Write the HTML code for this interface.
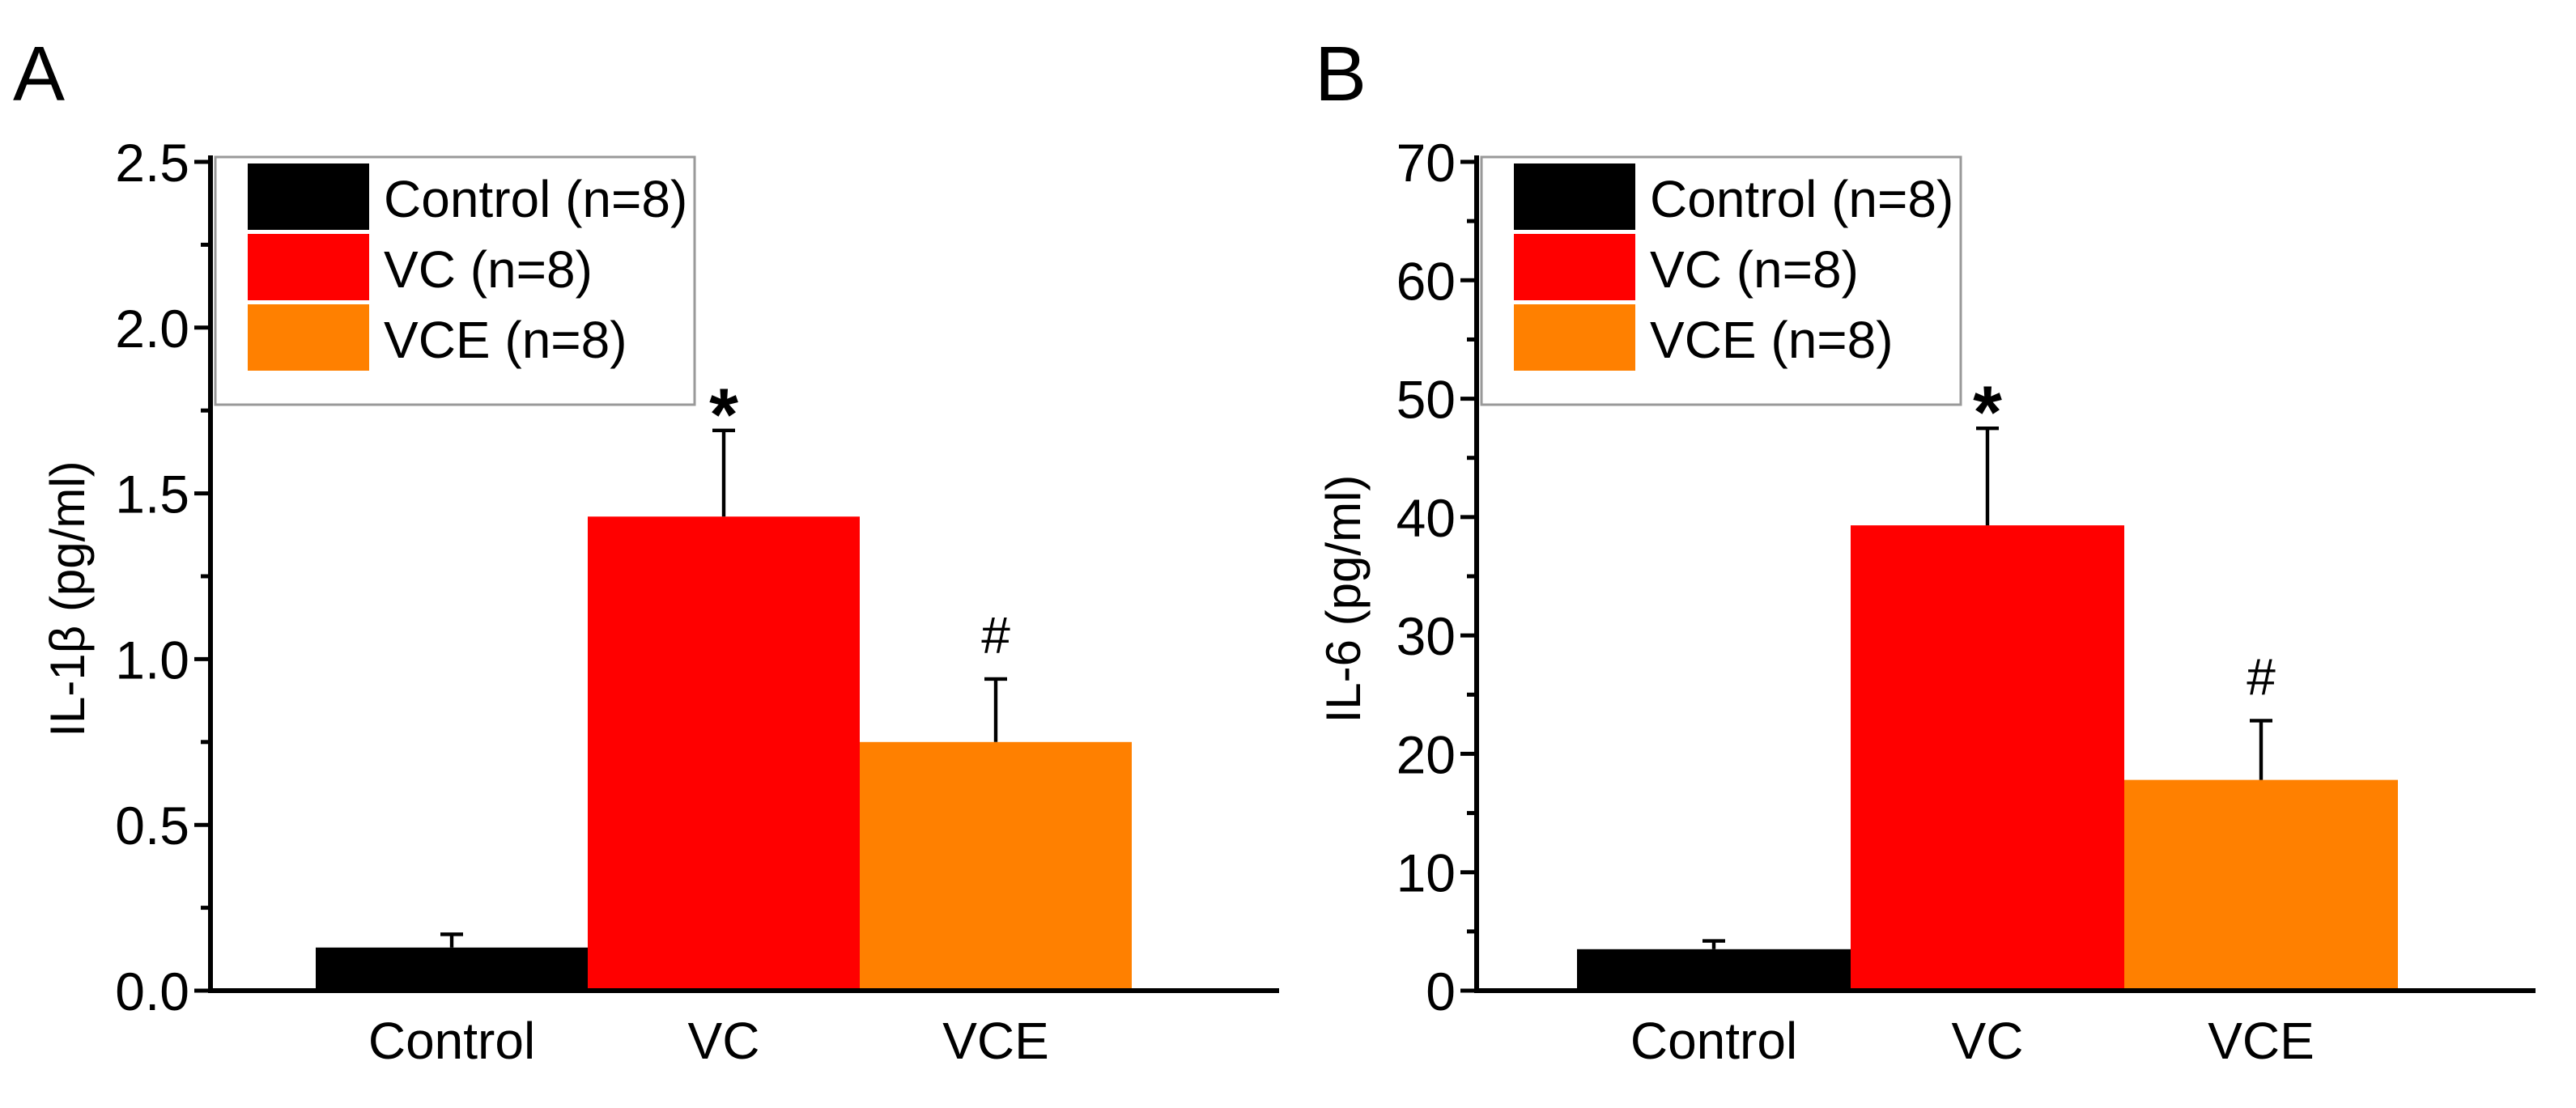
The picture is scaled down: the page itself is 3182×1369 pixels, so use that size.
<!DOCTYPE html>
<html><head><meta charset="utf-8"><style>html,body{margin:0;padding:0;background:#fff}svg{display:block}</style></head>
<body>
<svg id="chart" width="3182" height="1369" viewBox="0 0 1591 684.5" xmlns="http://www.w3.org/2000/svg" font-family="Liberation Sans, Arial, sans-serif"></svg>
<script>
const categories = ["Control", "VC", "VCE"];
const legendLabels = ["Control (n=8)", "VC (n=8)", "VCE (n=8)"];
const colors = ["#000000", "#ff0000", "#ff8000"];
const valuesA = [0.13, 1.43, 0.75];
const errorsA = [0.17, 1.69, 0.94];
const marksA = ["", "*", "#"];
const ticksA = ["0.0", "0.5", "1.0", "1.5", "2.0", "2.5"];
const valuesB = [3.5, 39.3, 17.8];
const errorsB = [4.2, 47.5, 22.8];
const marksB = ["", "*", "#"];
const ticksB = ["0", "10", "20", "30", "40", "50", "60", "70"];

const svg = document.getElementById('chart');
const NS = "http://www.w3.org/2000/svg";
function mk(tag, attrs, parent) {
  const e = document.createElementNS(NS, tag);
  for (const k in attrs) e.setAttribute(k, attrs[k]);
  (parent || svg).appendChild(e);
  return e;
}

function panel(cfg) {
  const g = mk('g', {});
  
  
  const ax = cfg.ax, y0 = 612, yTop = 100;
  const ymax = parseFloat(cfg.ticks[cfg.ticks.length - 1]);
  const y = v => y0 - (v / ymax) * (y0 - yTop);
  const bw = cfg.bw;
  const xb = i => cfg.bx + i * bw;

  cfg.values.forEach((v, i) => {
    const r = mk('rect', {x: xb(i), y: y(v), width: bw, height: y0 - y(v), fill: colors[i]}, g);
    
    
    const cx = xb(i) + bw / 2;
    const eb = mk('path', {d: `M${cx},${y(v)}V${y(cfg.errors[i])}M${cx - 7},${y(cfg.errors[i])}H${cx + 7}`, stroke: '#000', 'stroke-width': 2.2, fill: 'none'}, g);
    
    
    if (cfg.marks[i]) {
      const isStar = cfg.marks[i] === '*';
      const t = mk('text', {x: cx, y: y(cfg.errors[i]) - (isStar ? -6 : 16), 'font-size': isStar ? 46 : 32, 'text-anchor': 'middle', 'font-weight': isStar ? 'bold' : 'normal'}, g);
      t.textContent = cfg.marks[i];
      
      
    }
    const xl = mk('text', {x: cx, y: 654, 'font-size': 32, 'text-anchor': 'middle'}, g);
    xl.textContent = categories[i];
    
    
  });

  const axes = mk('path', {d: `M${ax},${yTop - 4}V${y0}H${cfg.xend}`, stroke: '#000', 'stroke-width': 3, fill: 'none'}, g);
  
  
  const n = cfg.ticks.length;
  for (let k = 0; k < n; k++) {
    const v = parseFloat(cfg.ticks[k]);
    mk('line', {x1: ax - 10, x2: ax, y1: y(v), y2: y(v), stroke: '#000', 'stroke-width': 2.5}, g);
    if (k < n - 1) {
      const mv = (parseFloat(cfg.ticks[k]) + parseFloat(cfg.ticks[k + 1])) / 2;
      mk('line', {x1: ax - 6, x2: ax, y1: y(mv), y2: y(mv), stroke: '#000', 'stroke-width': 2.5}, g);
    }
    const t = mk('text', {x: ax - 13, y: y(v) + 12, 'font-size': 33, 'text-anchor': 'end'}, g);
    t.textContent = cfg.ticks[k];
    
    
  }
  const yt = mk('text', {x: 0, y: 0, 'font-size': 30, 'text-anchor': 'middle', transform: `translate(${cfg.ylx},${(y0 + yTop) / 2 + 14}) rotate(-90)`}, g);
  yt.textContent = cfg.ylabel;
  
  

  const pl = mk('text', {x: cfg.plx, y: 62, 'font-size': 48}, g);
  pl.textContent = cfg.letter;
  
  

  const lg = mk('g', {}, g);
  
  
  mk('rect', {x: cfg.lx, y: 97, width: 296, height: 153, fill: '#fff', stroke: '#999', 'stroke-width': 1.5}, lg);
  legendLabels.forEach((lab, i) => {
    const ry = 101 + i * 43.5;
    const sw = mk('rect', {x: cfg.lx + 20, y: ry, width: 75, height: 41, fill: colors[i]}, lg);
    
    
    const t = mk('text', {x: cfg.lx + 104, y: ry + 33, 'font-size': 32}, lg);
    t.textContent = lab;
    
    
  });
}

panel({name: 'panel-a', letter: 'A', ax: 130, xend: 790, bx: 195, bw: 168, values: valuesA, errors: errorsA, marks: marksA, ticks: ticksA, ylabel: 'IL-1β (pg/ml)', ylx: 52, plx: 8, lx: 133});
panel({name: 'panel-b', letter: 'B', ax: 912, xend: 1566, bx: 974, bw: 169, values: valuesB, errors: errorsB, marks: marksB, ticks: ticksB, ylabel: 'IL-6 (pg/ml)', ylx: 840, plx: 812, lx: 915});
</script>
</body></html>
